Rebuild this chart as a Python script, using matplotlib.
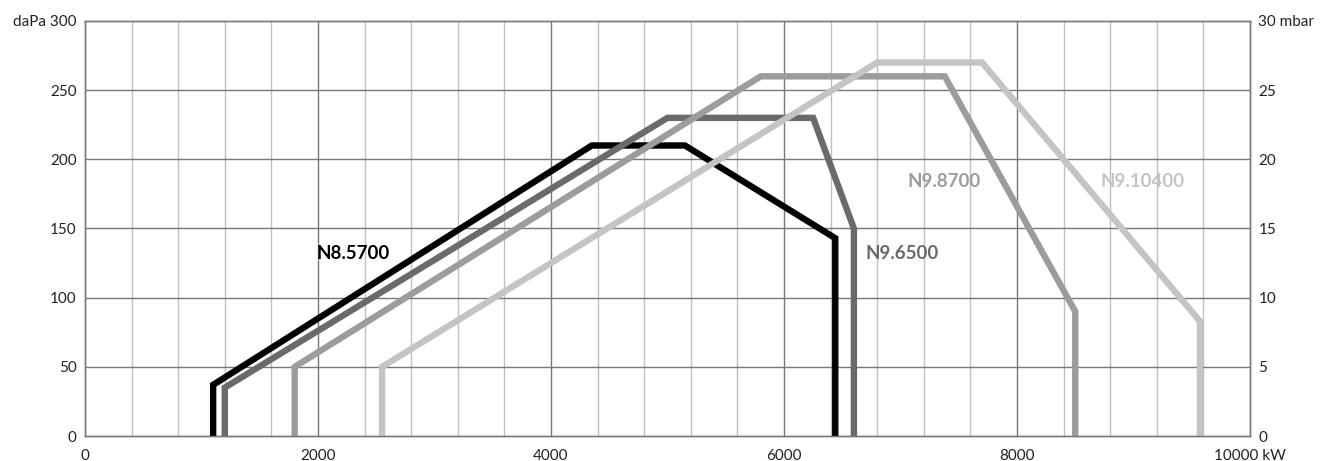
import matplotlib
matplotlib.use("Agg")
import matplotlib.pyplot as plt

plt.rcParams['font.family'] = ['Lato', 'DejaVu Sans']

# Data (kW, daPa)
n85_x = [1100, 1100, 4350, 5150, 6440, 6440]
n85_y = [0, 37, 210, 210, 143, 0]
n95_x = [1200, 1200, 5000, 6250, 6600, 6600]
n95_y = [0, 35, 230, 230, 150, 0]
n98_x = [1800, 1800, 5800, 7380, 8500, 8500]
n98_y = [0, 50, 260, 260, 90, 0]
n910_x = [2550, 2550, 6800, 7700, 9570, 9570]
n910_y = [0, 50, 270, 270, 83, 0]

series_names = ["N8.5700", "N9.6500", "N9.8700", "N9.10400"]
series_colors = ["#000000", "#6a6a6a", "#9c9c9c", "#c4c4c4"]
label_pos = [(1990, 132), (6700, 132), (7060, 184), (8720, 184)]

x_ticks = [0, 2000, 4000, 6000, 8000, 10000]
x_ticklabels = ["0", "2000", "4000", "6000", "8000", "10000 kW"]
y_ticks = [0, 50, 100, 150, 200, 250, 300]
y_ticklabels = ["0", "50", "100", "150", "200", "250", "daPa 300"]
y2_ticks = [0, 5, 10, 15, 20, 25, 30]
y2_ticklabels = ["0", "5", "10", "15", "20", "25", "30 mbar"]

fig = plt.figure(figsize=(13.2, 4.61), dpi=100)
ax = fig.add_axes([85/1320, 1-436/461, (1250-85)/1320, (436-21)/461])
ax.set_xlim(0, 10000)
ax.set_ylim(0, 300)

# grid
for xv in range(400, 10000, 400):
    major = xv % 2000 == 0
    ax.axvline(xv, color="#777777" if major else "#c0c0c0", lw=1.0, zorder=1)
for yv in y_ticks[1:-1]:
    ax.axhline(yv, color="#777777", lw=1.0, zorder=1)

xs = [n85_x, n95_x, n98_x, n910_x]
ys = [n85_y, n95_y, n98_y, n910_y]
for i, (x, y) in enumerate(zip(xs, ys)):
    ax.plot(x, y, color=series_colors[i], lw=4.6, solid_joinstyle='miter',
            solid_capstyle='butt', zorder=3 + i)
    ax.text(label_pos[i][0], label_pos[i][1], series_names[i], color=series_colors[i],
            fontsize=13.5, fontweight='bold', va='center', ha='left', zorder=2)

for s in ax.spines.values():
    s.set_color("#777777")
    s.set_linewidth(1.0)

ax.set_xticks(x_ticks)
ax.set_xticklabels(x_ticklabels)
ax.set_yticks(y_ticks)
ax.set_yticklabels(y_ticklabels)
ax.tick_params(axis='y', length=0, labelsize=11, colors="#222222", pad=6)
ax.tick_params(axis='x', length=0, labelsize=11, colors="#222222", pad=9)

ax2 = ax.twinx()
ax2.set_ylim(0, 30)
ax2.set_yticks(y2_ticks)
ax2.set_yticklabels(y2_ticklabels)
ax2.tick_params(length=0, labelsize=11, colors="#222222", pad=6)
for s in ax2.spines.values():
    s.set_color("#777777")
    s.set_linewidth(1.0)

fig.savefig("out.png", dpi=100)
